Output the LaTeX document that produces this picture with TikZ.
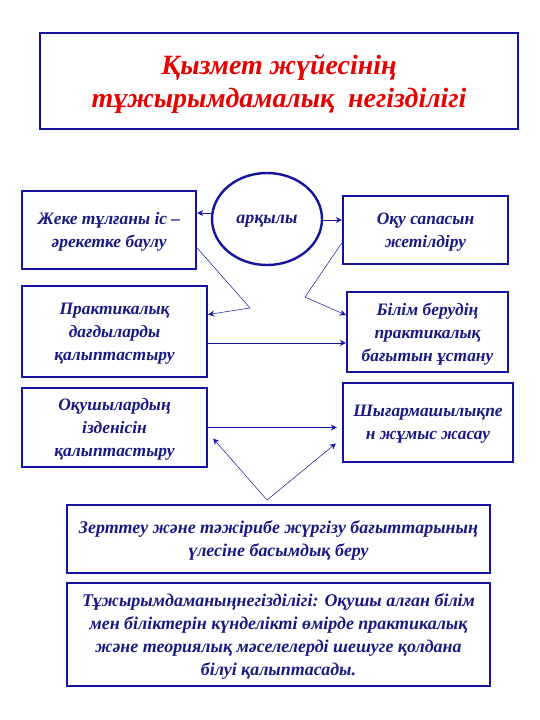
\documentclass[tikz,border=0pt]{standalone}
\usepackage{fontspec}
\setmainfont{Liberation Serif}
\usetikzlibrary{shapes.geometric, arrows.meta}
\definecolor{frameblue}{RGB}{20,20,160}
\definecolor{textblue}{RGB}{25,25,130}
\definecolor{titlered}{RGB}{230,0,0}
\begin{document}
\begin{tikzpicture}[
    x=1bp, y=-1bp,
    box/.style={rectangle, draw=frameblue, line width=2.4bp, align=center, inner sep=1bp,
        text=textblue, text depth=-16bp, font=\fontsize{17.5}{23}\selectfont\bfseries\itshape},
    widebox/.style={box, font=\fontsize{18}{23}\selectfont\bfseries\itshape},
    oval/.style={ellipse, draw=frameblue, line width=2.4bp, inner sep=0pt,
        text=textblue, text depth=-14bp, font=\fontsize{18}{20}\selectfont\bfseries\itshape},
    title/.style={box, text=titlered, text depth=-21bp, font=\fontsize{28}{34}\selectfont\bfseries\itshape},
    arr/.style={-{Stealth[length=6bp,width=6bp]}, draw=frameblue, line width=0.9bp},
    thinarr/.style={-{Stealth[length=6bp,width=6bp]}, draw=frameblue, line width=0.5bp}
]
\useasboundingbox[fill=white] (0,0) rectangle (540,720);
% title
\node[title, minimum width=478bp, minimum height=96bp] (head) at (279,81)
    {Қызмет жүйесінің\\тұжырымдамалық\ \ негізділігі};
% middle row
\node[oval, minimum width=110bp, minimum height=92bp] (arq) at (267,219) {арқылы};
\node[box, minimum width=174bp, minimum height=78bp] (zheke) at (109,230)
    {Жеке тұлғаны іс --\\әрекетке баулу};
\node[box, minimum width=165bp, minimum height=68bp] (oqu) at (425.5,230)
    {Оқу сапасын\\жетілдіру};
\node[box, minimum width=185bp, minimum height=91bp] (prak) at (114.5,331.5)
    {Практикалық\\дағдыларды\\қалыптастыру};
\node[box, minimum width=161bp, minimum height=80bp] (bilim) at (427.5,332)
    {Білім берудің\\практикалық\\бағытын ұстану};
\node[box, minimum width=185bp, minimum height=79bp] (oqush) at (114.5,427.5)
    {Оқушылардың\\ізденісін\\қалыптастыру};
\node[box, minimum width=170bp, minimum height=79bp] (shyg) at (428,422.5)
    {Шығармашылықпе\\н жұмыс жасау};
% bottom
\node[widebox, minimum width=423bp, minimum height=68bp] (zert) at (278.5,539)
    {Зерттеу және тәжірибе жүргізу бағыттарының\\үлесіне басымдық беру};
\node[widebox, minimum width=423bp, minimum height=103bp] (tuzh) at (278.5,634.5)
    {Тұжырымдаманыңнегізділігі: Оқушы алған білім\\мен біліктерін күнделікті өмірде практикалық\\және теориялық мәселелерді шешуге қолдана\\білуі қалыптасады.};
% connectors
\coordinate (a1) at ([yshift=6bp]arq.west);
\coordinate (a2) at ([yshift=-1bp]arq.east);
\coordinate (p2) at ([yshift=-11.5bp]prak.east);
\coordinate (b1) at (250,308);
\coordinate (b2) at (305,297);
\coordinate (c1) at (267,500);
\draw[arr] (a1) -- (a1 -| zheke.east);
\draw[arr] (a2) -- (a2 -| oqu.west);
\draw[thinarr] ([yshift=-18bp]zheke.east) -- (b1) -- ([yshift=17bp]prak.east);
\draw[thinarr] ([yshift=-13bp]oqu.west) -- (b2) -- ([yshift=17bp]bilim.west);
\draw[arr] (p2) -- (p2 -| bilim.west);
\draw[arr, shorten >=5bp] (oqush.east) -- (oqush.east -| shyg.west);
\draw[thinarr] (c1) -- ([xshift=5bp,yshift=-11bp]oqush.east);
\draw[thinarr] (c1) -- ([xshift=-6bp,yshift=-21bp]shyg.west);
\end{tikzpicture}
\end{document}
